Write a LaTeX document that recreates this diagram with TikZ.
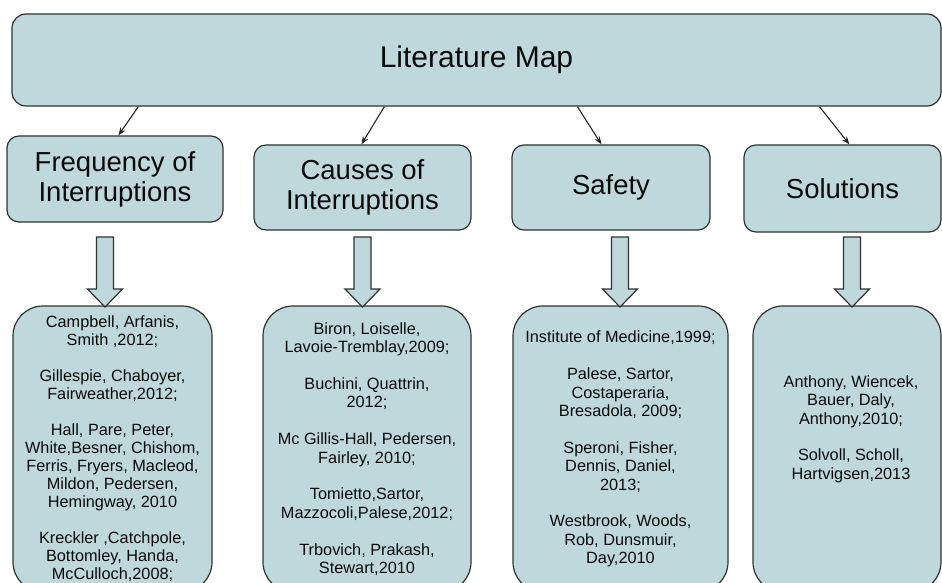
\documentclass[tikz,border=0pt]{standalone}
\usepackage{fontspec}
\setmainfont{Liberation Sans}
\usetikzlibrary{arrows.meta}
\definecolor{boxfill}{RGB}{190,216,220}
\definecolor{boxline}{RGB}{50,50,50}
\definecolor{txt}{RGB}{10,10,10}
\begin{document}
\begin{tikzpicture}[x=1pt,y=-1pt,
  box/.style={draw=boxline, fill=boxfill, line width=1.2pt, text=txt, align=center, inner sep=0pt},
  topbox/.style={box, rounded corners=14pt, minimum width=929pt, minimum height=92pt, font=\fontsize{30}{34}\selectfont},
  catbox/.style={box, rounded corners=12pt, font=\fontsize{27.5}{30}\selectfont},
  refbox/.style={box, rounded corners=30pt, minimum height=286pt, font=\fontsize{16.3}{18.4}\selectfont},
  reftext/.style={text=txt, align=center, inner sep=0pt, font=\fontsize{16.3}{18.4}\selectfont},
  conn/.style={draw=black!85, line width=1.1pt, -{Stealth[length=8pt,width=6pt]}},
  barrow/.style={draw=boxline, fill=boxfill, line width=1.2pt, line join=miter},
  blockarrow/.pic={\path[barrow] (-8.5,0) -- (8.5,0) -- (8.5,52) -- (17.5,52) -- (0,70) -- (-17.5,52) -- (-8.5,52) -- cycle;}
]
\useasboundingbox (0,0) rectangle (942,583);
\clip (0,0) rectangle (942,583);

% top
\node[topbox] (map) at (476.5,60) {Literature Map};

% categories
\node[catbox, minimum width=216pt, minimum height=86pt] (freq) at (115,179) {Frequency of\\Interruptions};
\node[catbox, minimum width=217pt, minimum height=85pt] (causes) at (362.5,187.5) {Causes of\\Interruptions};
\node[catbox, minimum width=198pt, minimum height=85pt] (safety) at (611,187.5) {Safety};
\node[catbox, minimum width=197pt, minimum height=87pt] (sol) at (842.5,188.5) {Solutions};

% connectors
\draw[conn] ([xshift=127pt]map.south west) -- ([xshift=112pt]freq.north west);
\draw[conn] ([xshift=373pt]map.south west) -- ([xshift=108pt]causes.north west);
\draw[conn] ([xshift=566pt]map.south west) -- ([xshift=90pt]safety.north west);
\draw[conn] ([xshift=808pt]map.south west) -- ([xshift=106pt]sol.north west);

% reference boxes
\node[refbox, minimum width=199pt, font=\fontsize{16.3}{18}\selectfont] (freqrefs) at (112.5,449) {Campbell, Arfanis,\\Smith ,2012;\\[18pt]Gillespie, Chaboyer,\\Fairweather,2012;\\[18pt]Hall, Pare, Peter,\\White,Besner, Chishom,\\Ferris, Fryers, Macleod,\\Mildon, Pedersen,\\Hemingway, 2010\\[18pt]Kreckler ,Catchpole,\\Bottomley, Handa,\\McCulloch,2008;};
\node[refbox, minimum width=208pt] (causesrefs) at (367,449) {Biron, Loiselle,\\Lavoie-Tremblay,2009;\\[18.4pt]Buchini, Quattrin,\\2012;\\[18.4pt]Mc Gillis-Hall, Pedersen,\\Fairley, 2010;\\[18.4pt]Tomietto,Sartor,\\Mazzocoli,Palese,2012;\\[18.4pt]Trbovich, Prakash,\\Stewart,2010};
\node[refbox, minimum width=215pt] (safetyrefs) at (620.5,449) {Institute of Medicine,1999;\\[18.4pt]Palese, Sartor,\\Costaperaria,\\Bresadola, 2009;\\[18.4pt]Speroni, Fisher,\\Dennis, Daniel,\\2013;\\[18.4pt]Westbrook, Woods,\\Rob, Dunsmuir,\\Day,2010};
\node[refbox, minimum width=188pt] (solrefs) at (847,449) {};
\node[reftext] (solrefstext) at (851,429) {Anthony, Wiencek,\\Bauer, Daly,\\Anthony,2010;\\[18.4pt]Solvoll, Scholl,\\Hartvigsen,2013};

% block arrows
\pic at (105,237) {blockarrow};
\pic at (362.5,237) {blockarrow};
\pic at (620,237) {blockarrow};
\pic at (852,237) {blockarrow};
\end{tikzpicture}
\end{document}
